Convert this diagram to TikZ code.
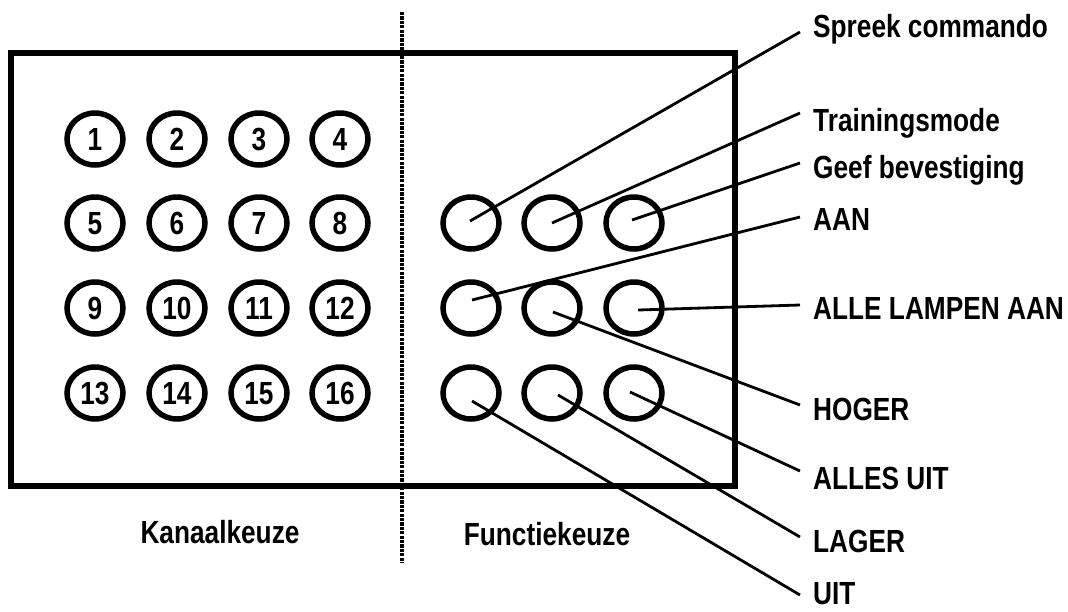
\documentclass[tikz,border=0pt]{standalone}
\usepackage{fontspec}
\setmainfont{Liberation Sans}[FakeStretch=0.82]
\usetikzlibrary{shapes.geometric}
\begin{document}
\begin{tikzpicture}[x=1pt,y=-1pt,
  txt/.style={font=\bfseries\fontsize{32}{32}\selectfont},
  knop/.style={ellipse, draw, line width=5.5pt, minimum width=56pt,
    minimum height=52pt, inner sep=0pt, text height=23pt, text depth=0pt, txt},
  lbl/.style={anchor=west, inner sep=0pt, text height=23pt, text depth=0pt, txt},
  onder/.style={inner sep=0pt, text height=23pt, text depth=0pt, txt},
  lijn/.style={line width=2.8pt},
]
\fill[white] (0,0) rectangle (1068,611);
\useasboundingbox (0,0) rectangle (1068,611);

% panel frame and the dotted divider
\draw[line width=6pt] (11,53) rectangle (735,486);
\coordinate (dtop) at (402,12);
\coordinate (dbot) at (402,563);
\draw[line width=4pt, dash pattern=on 3.2pt off 1.2pt] (dtop) -- (dbot);

% channel buttons 1..16
\foreach \r/\y in {0/139,1/223,2/308,3/393}
  \foreach \c/\x in {0/95,1/177,2/259,3/340} {
    \pgfmathtruncatemacro\n{\r*4+\c+1}
    \node[knop] (k\n) at (\x,\y) {\n};
  }

% function buttons
\node[knop] (f1) at (471,223) {};
\node[knop] (f2) at (552,223) {};
\node[knop] (f3) at (634,223) {};
\node[knop] (f4) at (471,308) {};
\node[knop] (f5) at (552,308) {};
\node[knop] (f6) at (634,308) {};
\node[knop] (f7) at (471,393) {};
\node[knop] (f8) at (552,393) {};
\node[knop] (f9) at (634,393) {};

% function labels
\node[lbl] (l1) at (813,26)  {Spreek commando};
\node[lbl] (l2) at (813,120) {Trainingsmode};
\node[lbl] (l3) at (813,167) {Geef bevestiging};
\node[lbl] (l4) at (813,219) {AAN};
\node[lbl] (l5) at (813,308) {ALLE LAMPEN AAN};
\node[lbl] (l6) at (813,409) {HOGER};
\node[lbl] (l7) at (813,478) {ALLES UIT};
\node[lbl] (l8) at (813,541) {LAGER};
\node[lbl] (l9) at (813,593) {UIT};

% leader lines from buttons to labels
\draw[lijn] ([shift={(-1,-2)}]f1.center) -- ([shift={(-13,6)}]l1.west);
\draw[lijn] (f2.center) -- ([shift={(-13,-7)}]l2.west);
\draw[lijn] ([shift={(-2,-3)}]f3.center) -- ([shift={(-13,-4)}]l3.west);
\draw[lijn] ([shift={(1,-8)}]f4.center) -- ([shift={(-13,-2)}]l4.west);
\draw[lijn] ([shift={(4,2)}]f6.center) -- ([shift={(-13,-3)}]l5.west);
\draw[lijn] ([shift={(1,4)}]f5.center) -- ([shift={(-13,-4)}]l6.west);
\draw[lijn] ([shift={(-4,-1)}]f9.center) -- ([shift={(-13,-7)}]l7.west);
\draw[lijn] ([shift={(6,2)}]f8.center) -- ([shift={(-13,-4)}]l8.west);
\draw[lijn] ([shift={(1,8)}]f7.center) -- ([shift={(-13,2)}]l9.west);

% panel captions
\node[onder] (kk) at (220,532) {Kanaalkeuze};
\node[onder] (fk) at (547,534) {Functiekeuze};
\end{tikzpicture}
\end{document}
